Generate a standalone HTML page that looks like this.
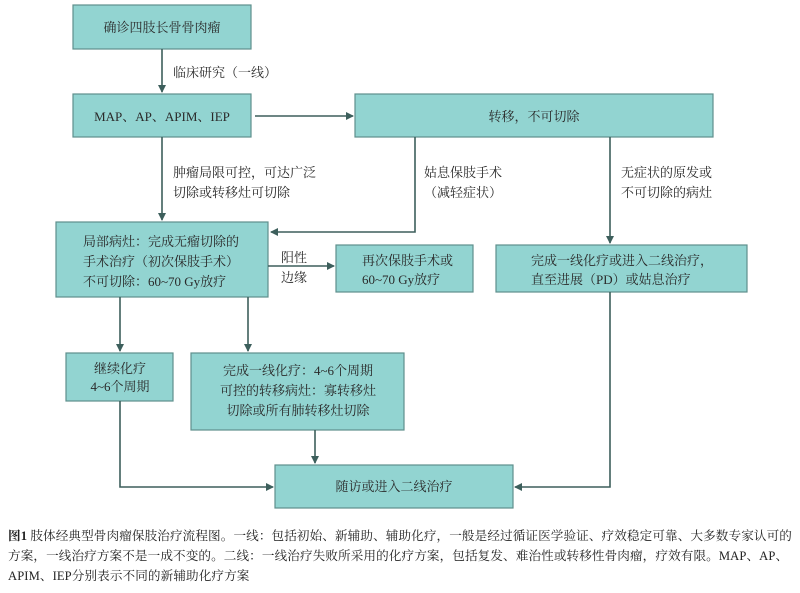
<!DOCTYPE html>
<html><head><meta charset="utf-8"><style>
body{margin:0;background:#fff;width:800px;height:588px;overflow:hidden}
svg text{font-family:"Liberation Serif","Noto Serif CJK SC",serif;font-size:13px;fill:#2a2a2a}
.b{fill:#92d4d1;stroke:#5f8f8c;stroke-width:1.2}
.l{stroke:#3d5f5c;stroke-width:1.6;fill:none}
.cap{font-size:12.6px;fill:#222;letter-spacing:0.1px}
</style></head><body>
<svg width="800" height="588" viewBox="0 0 800 588" xmlns="http://www.w3.org/2000/svg">
<defs><marker id="a" markerWidth="8" markerHeight="8" refX="7" refY="4" orient="auto" markerUnits="userSpaceOnUse"><path d="M0,0 L8,4 L0,8 z" fill="#3d5f5c"/></marker></defs>
<rect class="b" x="73" y="5" width="178" height="44"/>
<text x="162" y="32" text-anchor="middle">确诊四肢长骨骨肉瘤</text>
<path class="l" d="M162,49 V92" marker-end="url(#a)"/>
<text x="173" y="77">临床研究（一线）</text>
<rect class="b" x="73" y="94" width="178" height="43"/>
<text x="162" y="121" text-anchor="middle">MAP、AP、APIM、IEP</text>
<path class="l" d="M255,116 V116 H353" marker-end="url(#a)"/>
<rect class="b" x="355" y="94" width="358" height="43"/>
<text x="534" y="121" text-anchor="middle">转移，不可切除</text>
<path class="l" d="M162,137 V220" marker-end="url(#a)"/>
<text x="173" y="177">肿瘤局限可控，可达广泛</text>
<text x="173" y="197">切除或转移灶可切除</text>
<path class="l" d="M415,137 V232 H271" marker-end="url(#a)"/>
<text x="424" y="177">姑息保肢手术</text>
<text x="424" y="197">（减轻症状）</text>
<path class="l" d="M610,137 V243" marker-end="url(#a)"/>
<text x="621" y="177">无症状的原发或</text>
<text x="621" y="197">不可切除的病灶</text>
<rect class="b" x="56" y="222" width="212" height="75"/>
<text x="83" y="246">局部病灶：完成无瘤切除的</text>
<text x="83" y="266">手术治疗（初次保肢手术）</text>
<text x="83" y="286">不可切除：60~70 Gy放疗</text>
<path class="l" d="M268,266 H334" marker-end="url(#a)"/>
<text x="281" y="262">阳性</text>
<text x="281" y="282">边缘</text>
<rect class="b" x="336" y="245" width="137" height="47"/>
<text x="362" y="265">再次保肢手术或</text>
<text x="362" y="284">60~70 Gy放疗</text>
<rect class="b" x="496" y="245" width="251" height="47"/>
<text x="531" y="265">完成一线化疗或进入二线治疗，</text>
<text x="531" y="284">直至进展（PD）或姑息治疗</text>
<path class="l" d="M120,297 V351" marker-end="url(#a)"/>
<path class="l" d="M248,297 V351" marker-end="url(#a)"/>
<rect class="b" x="66" y="353" width="107" height="48"/>
<text x="120" y="373" text-anchor="middle">继续化疗</text>
<text x="120" y="391" text-anchor="middle">4~6个周期</text>
<rect class="b" x="191" y="353" width="213" height="77"/>
<text x="298" y="375" text-anchor="middle">完成一线化疗：4~6个周期</text>
<text x="298" y="395" text-anchor="middle">可控的转移病灶：寡转移灶</text>
<text x="298" y="415" text-anchor="middle">切除或所有肺转移灶切除</text>
<path class="l" d="M315,430 V463" marker-end="url(#a)"/>
<path class="l" d="M120,401 V487 H273" marker-end="url(#a)"/>
<path class="l" d="M610,292 V487 H515" marker-end="url(#a)"/>
<rect class="b" x="275" y="465" width="238" height="43"/>
<text x="394" y="491" text-anchor="middle">随访或进入二线治疗</text>
<text class="cap" x="8" y="540"><tspan font-weight="bold">图1</tspan>  肢体经典型骨肉瘤保肢治疗流程图。一线：包括初始、新辅助、辅助化疗，一般是经过循证医学验证、疗效稳定可靠、大多数专家认可的</text>
<text class="cap" x="8" y="560">方案，一线治疗方案不是一成不变的。二线：一线治疗失败所采用的化疗方案，包括复发、难治性或转移性骨肉瘤，疗效有限。MAP、AP、</text>
<text class="cap" x="8" y="580">APIM、IEP分别表示不同的新辅助化疗方案</text>
</svg>
</body></html>
